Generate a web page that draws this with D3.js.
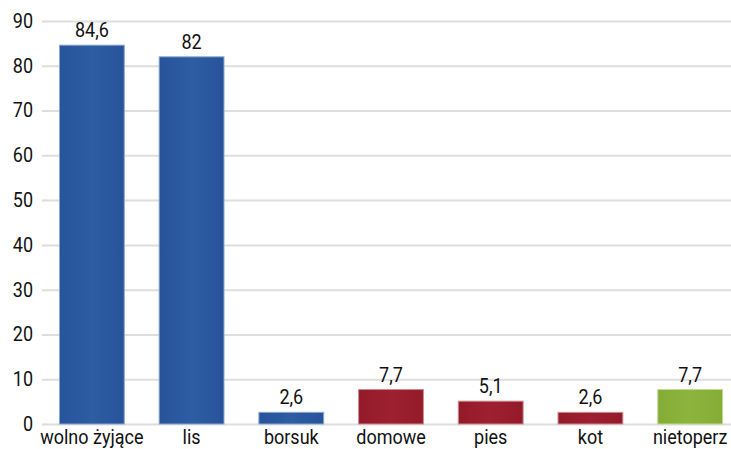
<!DOCTYPE html>
<html>
<head>
<meta charset="utf-8">
<script src="https://cdn.jsdelivr.net/npm/d3@7"></script>
<style>
  body { margin: 0; background: #fff; }
  svg text { font-family: Roboto, "Liberation Sans Narrow", sans-serif; fill: #111; }
</style>
</head>
<body>
<svg id="chart" width="731" height="449"></svg>
<script>
var categories = ['wolno żyjące', 'lis', 'borsuk', 'domowe', 'pies', 'kot', 'nietoperz'];
var values = [84.6, 82, 2.6, 7.7, 5.1, 2.6, 7.7];
var valueLabels = ['84,6', '82', '2,6', '7,7', '5,1', '2,6', '7,7'];
var groups = ['blue', 'blue', 'blue', 'red', 'red', 'red', 'green'];
var yTicks = [0, 10, 20, 30, 40, 50, 60, 70, 80, 90];

var palette = {
    blue:  { mid: '#2e5da3', edge: '#27539a', stroke: '#8aa6cf' },
    red:   { mid: '#9e2030', edge: '#931a2a', stroke: '#cc8a92' },
    green: { mid: '#8db53d', edge: '#84ad35', stroke: '#c2d897' }
};

// condensed look: bigger font squeezed horizontally
var FONT = '20px',
    SQUEEZE = 'scale(0.9,1)';

var svg = d3.select('#chart');

var x = d3.scaleBand()
    .domain(categories)
    .range([42, 740])
    .paddingInner(0.35)
    .paddingOuter(0.175);

var y = d3.scaleLinear()
    .domain([0, 90])
    .range([424, 21]);

var defs = svg.append('defs');
Object.keys(palette).forEach(function(key){
    var g = defs.append('linearGradient')
        .attr('id', 'grad-' + key)
        .attr('x1', '0%').attr('x2', '100%')
        .attr('y1', '0%').attr('y2', '0%');
    g.append('stop').attr('offset', '0%').attr('stop-color', palette[key].edge);
    g.append('stop').attr('offset', '50%').attr('stop-color', palette[key].mid);
    g.append('stop').attr('offset', '100%').attr('stop-color', palette[key].edge);
});

// grid lines
svg.append('g')
    .selectAll('line')
    .data(yTicks)
    .enter().append('line')
    .attr('x1', 42)
    .attr('x2', 731)
    .attr('y1', function(d){ return y(d) + 0.5; })
    .attr('y2', function(d){ return y(d) + 0.5; })
    .attr('stroke', '#dedede')
    .attr('stroke-width', 2);

// y axis labels
var yAxis = d3.axisLeft(y).tickValues(yTicks).tickSize(0).tickPadding(0);
var yg = svg.append('g')
    .attr('transform', 'translate(33,0)')
    .call(yAxis);
yg.select('.domain').remove();
yg.selectAll('text')
    .style('font-size', FONT)
    .attr('transform', SQUEEZE)
    .attr('fill', '#111');

// bars
svg.append('g')
    .selectAll('rect')
    .data(categories)
    .enter().append('rect')
    .attr('x', function(d){ return x(d); })
    .attr('width', x.bandwidth())
    .attr('y', function(d, i){ return y(values[i]); })
    .attr('height', function(d, i){ return y(0) - y(values[i]); })
    .attr('fill', function(d, i){ return 'url(#grad-' + groups[i] + ')'; })
    .attr('stroke', function(d, i){ return palette[groups[i]].stroke; })
    .attr('stroke-width', 1);

// value labels
svg.append('g')
    .selectAll('g')
    .data(categories)
    .enter().append('g')
    .attr('transform', function(d, i){
        return 'translate(' + (x(d) + x.bandwidth() / 2) + ',' + (y(values[i]) - 8) + ')';
    })
    .append('text')
    .attr('text-anchor', 'middle')
    .attr('transform', SQUEEZE)
    .style('font-size', FONT)
    .text(function(d, i){ return valueLabels[i]; });

// x axis labels
var xAxis = d3.axisBottom(x).tickSize(0).tickPadding(0);
var xg = svg.append('g')
    .attr('transform', 'translate(0,430)')
    .call(xAxis);
xg.select('.domain').remove();
xg.selectAll('text')
    .style('font-size', FONT)
    .attr('transform', SQUEEZE)
    .attr('fill', '#111');
</script>
</body>
</html>
